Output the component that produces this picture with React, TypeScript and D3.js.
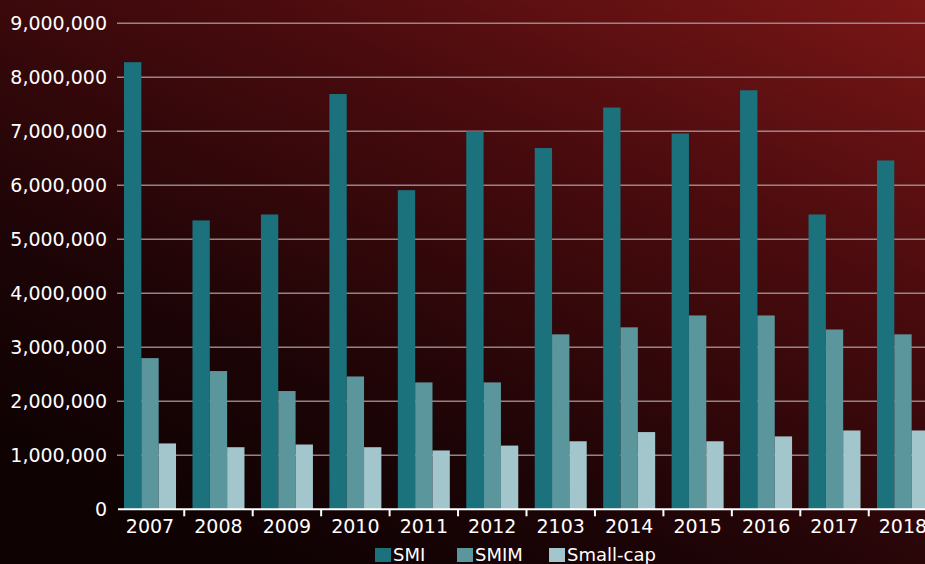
import React from "react";
import * as d3 from "d3";

const years = ["2007", "2008", "2009", "2010", "2011", "2012", "2103", "2014", "2015", "2016", "2017", "2018"];
const smi = [8280000, 5350000, 5460000, 7690000, 5910000, 7000000, 6690000, 7440000, 6960000, 7760000, 5460000, 6460000];
const smim = [2800000, 2560000, 2190000, 2460000, 2350000, 2350000, 3240000, 3370000, 3590000, 3590000, 3330000, 3240000];
const smallCap = [1220000, 1150000, 1200000, 1150000, 1090000, 1180000, 1260000, 1430000, 1260000, 1350000, 1460000, 1460000];
const seriesNames = ["SMI", "SMIM", "Small-cap"];
const seriesColors = ["#1b727c", "#5c969d", "#a3c6cc"];
const yTicks = [0, 1000000, 2000000, 3000000, 4000000, 5000000, 6000000, 7000000, 8000000, 9000000];

const W = 925;
const H = 564;
const FONT = "'DejaVu Sans', Verdana, sans-serif";

export default function App() {
  const series = [smi, smim, smallCap];
  const x = d3.scaleBand<string>().domain(years).range([115.8, 115.8 + 12 * 68.45]).paddingInner(0).paddingOuter(0);
  const inner = d3.scaleBand<number>().domain([0, 1, 2]).range([(68.45 - 52) / 2, (68.45 - 52) / 2 + 52]);
  const y = d3.scaleLinear().domain([0, 9000000]).range([509.3, 23.3]);
  const fmt = d3.format(",");
  const gridLeft = 117;

  return (
    <div style={{ position: "absolute", left: 0, top: 0, width: W, height: H, overflow: "hidden" }}>
      <svg width={W} height={H} style={{ display: "block" }}>
        <defs>
          <linearGradient id="bg" x1="1" y1="0" x2="0.25" y2="1">
            <stop offset="0" stopColor="#7a1616" />
            <stop offset="0.35" stopColor="#4a0b0e" />
            <stop offset="0.75" stopColor="#1c0406" />
            <stop offset="1" stopColor="#0e0203" />
          </linearGradient>
        </defs>
        <rect x={0} y={0} width={W} height={H} fill="url(#bg)" />
        {yTicks.slice(1).map((t) => (
          <line key={"g" + t} x1={gridLeft} x2={W} y1={y(t)} y2={y(t)} stroke="#a89a9a" strokeOpacity={0.85} strokeWidth={1.6} />
        ))}
        {yTicks.map((t) => (
          <text key={"yl" + t} x={107} y={y(t)} dy="0.36em" textAnchor="end" fill="#ffffff" fontFamily={FONT} fontSize={19}>
            {fmt(t)}
          </text>
        ))}
        {years.map((yr, i) => (
          <g key={yr} transform={`translate(${x(yr)},0)`}>
            {series.map((s, k) => (
              <rect key={k} x={inner(k)} y={y(s[i])} width={inner.bandwidth()} height={y(0) - y(s[i])} fill={seriesColors[k]} />
            ))}
          </g>
        ))}
        <line x1={118} x2={W} y1={y(0)} y2={y(0)} stroke="#ffffff" strokeWidth={2} />
        {years.slice(1).map((yr) => (
          <line key={"t" + yr} x1={x(yr)} x2={x(yr)} y1={y(0)} y2={y(0) + 7} stroke="#ffffff" strokeWidth={2} />
        ))}
        {years.map((yr) => (
          <text key={"xl" + yr} x={(x(yr) as number) + x.bandwidth() / 2} y={533} textAnchor="middle" fill="#ffffff" fontFamily={FONT} fontSize={19}>
            {yr}
          </text>
        ))}
        {seriesNames.map((n, k) => {
          const lx = [375, 457, 549][k];
          return (
            <g key={n}>
              <rect x={lx} y={548} width={16} height={14} fill={seriesColors[k]} />
              <text x={lx + 18} y={561} fill="#ffffff" fontFamily={FONT} fontSize={18}>
                {n}
              </text>
            </g>
          );
        })}
      </svg>
    </div>
  );
}
